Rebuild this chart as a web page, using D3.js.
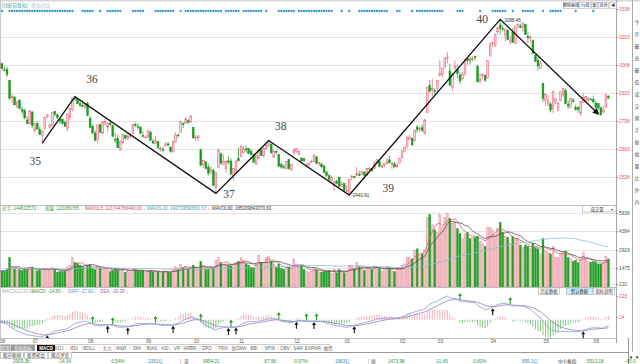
<!DOCTYPE html>
<html>
<head>
<meta charset="utf-8">
<script src="https://cdn.jsdelivr.net/npm/d3@7/dist/d3.min.js"></script>
<style>
  body { margin: 0; background: #fff; overflow: hidden; }
  svg { display: block; }
  text { font-family: "Liberation Sans", "Noto Sans CJK SC", sans-serif; }
  text.wave-label { font-family: "Liberation Serif", "DejaVu Serif", serif; }
</style>
</head>
<body>
<div id="chart"></div>
<script>
//Daily candles, 2018-06-12 .. 2019-06-12
var opens = [3052,3074,3045,3046,2995,2910,2913,2868,2898,2853,2848,2803,2784,
  2842,2754,2785,2757,2730,2763,2820,2766,2776,2845,2828,2808,2805,2790,2764,2818,2854,2908,2901,2884,2872,2862,
  2882,2812,2772,2740,2708,2780,2740,2790,2769,2788,2776,2708,2714,2664,2693,2730,2713,2723,2738,2781,2771,2766,2728,
  2718,2719,2745,2701,2689,2699,2662,2660,2679,2688,2671,2652,2698,2730,2743,2787,2789,2800,2793,
  2768,2713,2717,2660,2590,2601,2576,2558,2560,2476,2573,2640,2590,2568,2606,2605,2535,2557,
  2617,2628,2646,2663,2665,2653,2635,2591,2619,2659,2630,2664,2679,2686,2625,2652,2636,2588,2578,2570,2612,2563,
  2646,2652,2638,2620,2616,2580,2586,2598,2602,2625,2591,2590,2581,2551,2535,2512,2487,2508,2527,2481,
  2497,2461,2446,2529,2531,2537,2541,2540,2551,2536,2565,2570,2570,2598,2603,2575,2582,2593,2611,2592,2591,2579,
  2596,2623,2650,2672,2710,2714,2702,2769,2757,2767,2740,2838,2968,2947,2946,
  2954,3016,3025,3060,3101,3039,2962,3051,3046,3020,3001,3027,3100,3094,3094,3109,3061,2990,3017,3018,3005,
  3111,3177,3161,3227,3261,3243,3213,3236,3178,3225,3172,3258,3257,3250,3263,3207,3198,3186,3115,3090,3052,
  2980,2898,2883,2880,2859,2893,2850,2897,2924,2944,2879,2862,2900,2864,2863,2836,2887,2897,2899,2903,
  2902,2885,2882,2863,2842,2862,2917];
var highs = [3081,3078,3060,3060,2995,2930,2918,2894,2904,2866,2858,2821,2850,
  2844,2788,2796,2771,2755,2815,2831,2786,2838,2845,2834,2810,2812,2800,2835,2860,2906,2915,2909,2896,2889,2884,
  2893,2823,2782,2753,2780,2785,2795,2810,2789,2796,2780,2741,2732,2704,2734,2731,2738,2739,2783,2790,2788,2774,2749,
  2729,2751,2747,2712,2724,2700,2675,2673,2697,2696,2676,2701,2744,2738,2798,2790,2818,2808,2827,
  2769,2731,2728,2661,2612,2602,2592,2583,2566,2552,2665,2647,2639,2607,2629,2619,2571,2611,
  2670,2681,2678,2680,2667,2660,2642,2632,2661,2668,2668,2690,2704,2691,2658,2657,2640,2596,2589,2603,2612,2589,
  2666,2667,2656,2620,2621,2596,2597,2612,2636,2628,2601,2598,2587,2561,2541,2534,2510,2516,2531,2507,
  2500,2489,2515,2537,2535,2575,2558,2555,2556,2572,2575,2573,2601,2618,2605,2590,2594,2618,2631,2600,2600,2596,
  2619,2654,2674,2721,2731,2718,2754,2780,2772,2781,2805,2962,2995,3002,2955,
  2996,3091,3055,3103,3129,3075,3027,3090,3071,3033,3034,3096,3102,3106,3110,3114,3071,3028,3025,3022,3092,
  3176,3180,3217,3250,3288,3259,3243,3236,3209,3247,3255,3270,3268,3271,3267,3225,3213,3190,3126,3107,3088,
  2981,2933,2923,2889,2944,2910,2890,2939,2957,2955,2896,2910,2908,2877,2868,2892,2932,2920,2913,2910,
  2921,2894,2882,2864,2871,2925,2923];
var lows = [3048,3045,3037,3010,2899,2885,2874,2857,2853,2829,2806,2782,2783,
  2765,2742,2758,2731,2691,2758,2810,2758,2773,2819,2808,2783,2782,2768,2750,2801,2846,2894,2881,2867,2862,2855,
  2823,2764,2735,2700,2693,2740,2736,2777,2743,2772,2722,2691,2668,2653,2690,2708,2706,2714,2734,2768,2757,2736,2716,
  2711,2716,2702,2687,2685,2662,2651,2646,2674,2674,2644,2645,2694,2716,2743,2764,2785,2785,2791,
  2710,2702,2703,2583,2572,2565,2535,2540,2486,2449,2573,2588,2586,2550,2591,2539,2512,2550,
  2606,2622,2643,2646,2639,2633,2597,2586,2617,2629,2622,2661,2669,2639,2619,2640,2578,2567,2566,2566,2566,2555,
  2633,2644,2632,2597,2600,2575,2580,2596,2602,2592,2582,2573,2549,2528,2510,2500,2462,2492,2482,2478,
  2456,2455,2441,2512,2520,2535,2532,2536,2532,2533,2561,2552,2567,2597,2575,2573,2575,2590,2593,2566,2575,2573,
  2595,2616,2648,2672,2708,2680,2702,2740,2743,2745,2734,2838,2935,2917,2926,
  2931,3015,3010,3051,3076,2969,2944,3043,3004,2977,2993,3015,3070,3070,3085,3089,2983,2978,2999,2986,3005,
  3111,3155,3157,3216,3213,3230,3180,3186,3166,3174,3170,3244,3245,3229,3213,3175,3173,3123,3083,3041,3051,
  2889,2871,2868,2839,2838,2879,2847,2893,2914,2878,2855,2862,2888,2849,2837,2823,2886,2892,2887,2896,
  2883,2856,2851,2823,2836,2861,2903];
var closes = [3080,3050,3044,3022,2908,2916,2876,2890,2859,2845,2813,2787,2847,
  2776,2787,2759,2734,2747,2815,2828,2778,2838,2831,2814,2798,2787,2773,2829,2860,2906,2904,2882,2874,2869,2876,
  2825,2768,2740,2705,2779,2744,2794,2795,2786,2781,2723,2705,2669,2698,2734,2715,2725,2729,2781,2778,2769,2738,2725,
  2721,2751,2704,2692,2702,2669,2665,2656,2687,2682,2652,2700,2731,2729,2797,2781,2807,2792,2821,
  2717,2721,2726,2583,2607,2568,2546,2562,2486,2550,2655,2595,2603,2604,2599,2542,2568,2603,
  2606,2676,2665,2659,2641,2636,2599,2631,2655,2632,2668,2679,2704,2645,2652,2646,2579,2576,2575,2602,2567,2588,
  2655,2666,2650,2605,2606,2585,2594,2602,2634,2594,2598,2577,2550,2536,2516,2527,2505,2498,2483,2494,
  2465,2464,2515,2533,2526,2544,2535,2554,2536,2570,2570,2560,2596,2611,2580,2581,2592,2602,2597,2594,2576,2585,
  2618,2654,2672,2721,2720,2682,2754,2756,2761,2752,2804,2961,2942,2954,2941,
  2994,3028,3054,3102,3106,2970,3027,3060,3027,2991,3022,3096,3091,3091,3101,3104,2987,2997,3023,2995,3091,
  3170,3177,3216,3247,3245,3240,3242,3190,3189,3178,3254,3263,3250,3271,3215,3199,3202,3124,3086,3063,3078,
  2906,2926,2894,2851,2939,2904,2884,2939,2956,2882,2871,2906,2892,2853,2853,2892,2910,2915,2906,2899,
  2890,2862,2861,2828,2852,2924,2909];
var volumes = [1250,1300,1250,1400,2300,1600,1400,1300,1350,1300,1450,1350,1500,
  1550,1450,1250,1300,1400,1450,1350,1300,1500,1400,1150,1200,1200,1250,1550,1700,2300,1900,1850,1700,1600,1550,
  1700,1700,1450,1350,1600,1450,1400,1450,1400,1200,1300,1450,1350,1300,1450,1150,1200,1150,1450,1350,1250,1250,1250,
  1100,1250,1300,1150,1200,1150,1100,1150,1250,1150,1100,1350,1600,1400,1750,1500,1600,1400,1550,
  1700,1400,1350,2000,1700,1350,1400,1450,1500,2100,2300,1900,1750,1800,1700,1650,1750,1900,
  2000,2300,2100,1800,1700,1550,1500,1800,2500,1900,1900,2300,2400,2000,1800,1500,1800,1450,1350,1500,1550,1450,
  2200,1800,1550,1700,1350,1200,1150,1200,1450,1350,1150,1150,1200,1250,1300,1050,1350,1100,1350,1300,
  1100,1200,1700,1700,1400,1900,1550,1500,1300,1500,1450,1350,1650,1600,1450,1250,1350,1600,1500,1350,1200,1400,
  1500,1700,1800,2300,2300,2200,2900,3000,2500,2600,2900,5500,5700,4900,4500,
  4300,5700,4700,5500,5800,5400,5000,5200,4600,4200,3800,4200,4300,3800,3900,3900,4000,3600,3400,3200,4700,
  4700,4500,4100,4600,5100,4300,4000,3900,3400,4000,3800,3800,3300,3100,3300,3200,3000,3400,3100,3000,2600,
  3800,2900,2700,2600,3200,2300,2300,2600,2700,2800,2300,2200,2000,2100,1900,2300,2700,2200,2000,1900,
  2000,1900,1800,1800,1900,2400,2200];
// closes before the first candle (2018-05-02 .. 06-11), only used to warm up the MACD
var warmup = [3081,3100,3091,3136,3161,3159,3174,3163,3174,3192,3169,3154,3193,3214,3214,3169,3154,3141,3135,3120,3041,3095,3075,3091,3114,3115,3110,3067,3052];

var monthLabels = ["06","07","08","09","10","11","12","01","02","03","04","05","06"];
var monthStarts = [0,13,35,58,77,95,117,137,159,174,195,216,236];
var priceTicks = [3338,3203,3068,2933,2798,2663,2528];
var volTicks = [5838,4384,2919,1475,210];
var macdTicks = [122.5,14.29];

// hand drawn wave line
var pivotIdx = [17,30,86,107,139,199,238];
var pivotPrice = [2691,2915,2449,2704,2441,3288,2832];
var pivotLabels = ["35","36","37","38","39","40"];

// blue event dots on top row
var dotIdx = [1,4,5,6,7,8,9,10,11,12,13,14,15,16,17,18,19,20,21,22,23,24,25,26,27,28,29,
  33,34,35,36,37,40,43,44,45,46,47,48,53,54,55,56,57,62,63,64,65,66,67,68,69,72,
  74,75,76,77,78,79,80,81,82,83,84,85,86,87,88,90,91,92,93,94,95,97,98,99,100,101,102,103,104,106,
  111,112,113,114,115,116,117,119,120,121,122,123,124,125,126,127,128,129,130,131,132,136,139,
  143,144,145,146,147,148,149,150,151,152,153,154,158,159,164,166,167,168,169,170,171,172,173,174,175,176,
  182,183,184,191,196,197,198,199,200,201,204,208,209,210,211,212,216,219,220,221,222,223,229,236];

// MACD cross signals
var buyIdx = [19,43,51,69,91,94,118,125,141,196,232];
var sellIdx = [37,45,62,80,92,111,122,126,183,203];

//Define SVG
var width = 640, height = 364, axisX = 616;
var svg = d3.select("#chart").append("svg")
    .attr("width", width)
    .attr("height", height);

var n = closes.length;
var idx = d3.range(n);

//Define Scales
var x = d3.scaleLinear().domain([0, n - 1]).range([-0.5, 608.4]);
var yP = d3.scaleLinear().domain([2528, 3338]).range([177, 9]);
var yV = d3.scaleLinear().domain([210, 5838]).range([284, 213]);
var yM = d3.scaleLinear().domain([14.29, 122.5]).range([317, 296]);

var UP = "#e35a6c", UPFILL = "#f8d2d7", DOWN = "#1c9a22";
function isUp(i) { return closes[i] >= opens[i]; }

//Define clipping regions
var defs = svg.append("defs");
function addClip(id, y0, y1) {
    defs.append("clipPath").attr("id", id).append("rect")
        .attr("x", 0).attr("y", y0).attr("width", axisX).attr("height", y1 - y0);
}
addClip("clipP", 3, 205);
addClip("clipV", 205, 287);
addClip("clipM", 288, 338);

defs.append("marker")
    .attr("id", "arrowHead")
    .attr("viewBox", "0 0 10 10")
    .attr("refX", 8).attr("refY", 5)
    .attr("markerWidth", 5).attr("markerHeight", 5)
    .attr("orient", "auto")
    .append("path").attr("d", "M0,0 L10,5 L0,10 Z").attr("fill", "#111");

//top toolbar strip
svg.append("rect").attr("x", 0).attr("y", 0).attr("width", width).attr("height", 1.5).attr("fill", "#d6d6d6");
svg.append("line").attr("x1", 0.5).attr("x2", 0.5).attr("y1", 0).attr("y2", 338).attr("stroke", "#c8c8c8");
svg.append("text").attr("x", 1).attr("y", 7).attr("font-size", 4.8).attr("fill", "#3a9cb0").text("日线(前复权)");
svg.append("text").attr("x", 31).attr("y", 7).attr("font-size", 4.8).attr("fill", "#c4c4c4").text("叠加对比");

//gridlines
svg.append("g").selectAll("line").data(priceTicks.slice(1)).enter().append("line")
    .attr("x1", 1).attr("x2", axisX)
    .attr("y1", function(d) { return Math.round(yP(d)) + 0.5; })
    .attr("y2", function(d) { return Math.round(yP(d)) + 0.5; })
    .attr("stroke", "#e4e4e4");
svg.append("g").selectAll("line").data(volTicks).enter().append("line")
    .attr("x1", 1).attr("x2", axisX)
    .attr("y1", function(d) { return Math.round(yV(d)) + 0.5; })
    .attr("y2", function(d) { return Math.round(yV(d)) + 0.5; })
    .attr("stroke", "#e4e4e4");

//panel separators
[205.5, 287.5, 338.5].forEach(function(yy) {
    svg.append("line").attr("x1", 0).attr("x2", axisX).attr("y1", yy).attr("y2", yy).attr("stroke", "#bdbdbd");
});
svg.append("line").attr("x1", axisX + 0.5).attr("x2", axisX + 0.5).attr("y1", 0).attr("y2", 343).attr("stroke", "#a8a8a8");

//event dots
svg.append("g").selectAll("circle").data(dotIdx).enter().append("circle")
    .attr("cx", function(i) { return x(i); })
    .attr("cy", 11)
    .attr("r", 1.15)
    .attr("fill", "#2f98c9");

//Draw candles
var gP = svg.append("g").attr("clip-path", "url(#clipP)");
gP.selectAll(".wick").data(idx).enter().append("line")
    .attr("class", "wick")
    .attr("x1", function(i) { return x(i); })
    .attr("x2", function(i) { return x(i); })
    .attr("y1", function(i) { return yP(highs[i]); })
    .attr("y2", function(i) { return yP(lows[i]); })
    .attr("stroke", function(i) { return isUp(i) ? UP : DOWN; })
    .attr("stroke-width", 0.7);
gP.selectAll(".body").data(idx).enter().append("rect")
    .attr("class", "body")
    .attr("x", function(i) { return x(i) - 0.9; })
    .attr("width", 1.8)
    .attr("y", function(i) { return yP(Math.max(opens[i], closes[i])); })
    .attr("height", function(i) { return Math.max(0.7, Math.abs(yP(opens[i]) - yP(closes[i]))); })
    .attr("fill", function(i) { return isUp(i) ? UPFILL : DOWN; })
    .attr("stroke", function(i) { return isUp(i) ? UP : DOWN; })
    .attr("stroke-width", 0.5);

//wave line 35..40
var wave = d3.line()
    .x(function(d, k) { return x(pivotIdx[k]); })
    .y(function(d, k) { return yP(pivotPrice[k]); });
gP.append("path")
    .attr("d", wave(pivotIdx))
    .attr("fill", "none")
    .attr("stroke", "#111")
    .attr("stroke-width", 1.3)
    .attr("marker-end", "url(#arrowHead)");

var labelOffset = [[-7, 22], [17, -14], [13, 5], [12, -10], [39, -3], [-18, 4]];
svg.append("g").selectAll("text").data(pivotLabels).enter().append("text")
    .attr("class", "wave-label")
    .attr("x", function(d, k) { return x(pivotIdx[k]) + labelOffset[k][0]; })
    .attr("y", function(d, k) { return yP(pivotPrice[k]) + labelOffset[k][1]; })
    .attr("text-anchor", "middle")
    .attr("font-size", 11.5)
    .attr("fill", "#444")
    .text(function(d) { return d; });

svg.append("text").attr("x", x(199) + 4).attr("y", yP(3288) + 2.5)
    .attr("font-size", 4.6).attr("fill", "#333").text("3288.45");
svg.append("text").attr("x", x(139) + 2).attr("y", yP(2441) + 2)
    .attr("font-size", 4.6).attr("fill", "#333").text("-2440.91");

//price axis
var yAxisP = d3.axisRight(yP).tickValues(priceTicks).tickSize(2).tickPadding(1).tickFormat(d3.format("d"));
var gAxP = svg.append("g").attr("transform", "translate(" + axisX + ",0)").call(yAxisP);
gAxP.select(".domain").remove();
gAxP.selectAll("line").attr("stroke", "#d9707e");
gAxP.selectAll("text").attr("font-size", 4.8).attr("fill", "#d9546a");

//top right buttons
var btns = [["删除画线", 563, 15], ["T1线", 579, 11], ["窗", 591, 6], ["持仓", 598, 10], ["◀", 609, 7]];
btns.forEach(function(b) {
    svg.append("rect").attr("x", b[1] + 0.5).attr("y", 2.5).attr("width", b[2]).attr("height", 6)
        .attr("fill", "#fafafa").attr("stroke", "#b5b5b5").attr("stroke-width", 0.6);
    svg.append("text").attr("x", b[1] + 0.5 + b[2] / 2).attr("y", 7.2).attr("text-anchor", "middle")
        .attr("font-size", 4).attr("fill", "#333").text(b[0]);
});

//volume bars
var gV = svg.append("g").attr("clip-path", "url(#clipV)");
gV.selectAll("rect").data(idx).enter().append("rect")
    .attr("x", function(i) { return x(i) - 0.95; })
    .attr("width", 1.9)
    .attr("y", function(i) { return yV(volumes[i]); })
    .attr("height", function(i) { return 287 - yV(volumes[i]); })
    .attr("fill", function(i) { return isUp(i) ? "#f6c3ca" : "#22a126"; })
    .attr("stroke", function(i) { return isUp(i) ? "#e98594" : "#22a126"; })
    .attr("stroke-width", 0.4);

function movingAvg(arr, k) {
    return arr.map(function(d, i) { return d3.mean(arr.slice(Math.max(0, i - k + 1), i + 1)); });
}
var volLines = [[5, "#d4606f"], [10, "#555"], [60, "#88c2da"]];
volLines.forEach(function(v) {
    var m = movingAvg(volumes, v[0]);
    gV.append("path")
        .attr("d", d3.line().x(function(d, i) { return x(i); }).y(function(d) { return yV(d); })(m))
        .attr("fill", "none").attr("stroke", v[1]).attr("stroke-width", 0.8);
});

var yAxisV = d3.axisRight(yV).tickValues(volTicks).tickSize(2).tickPadding(1).tickFormat(d3.format("d"));
var gAxV = svg.append("g").attr("transform", "translate(" + axisX + ",0)").call(yAxisV);
gAxV.select(".domain").remove();
gAxV.selectAll("line").attr("stroke", "#888");
gAxV.selectAll("text").attr("font-size", 4.8).attr("fill", "#555");

//volume header
var volHead = [
    [2, "总手: 144632570", "#3a9a3a"],
    [45, "现量: 120289785", "#3a9a3a"],
    [85, "MAVOL5: 121744766440.00", "#d4485c"],
    [147, "MAVOL10: 143729890581.67", "#3aa3b8"],
    [212, "MAVOL60: 185209843070.83", "#333"]
];
volHead.forEach(function(h) {
    var t = svg.append("text").attr("x", h[0]).attr("y", 209.5).attr("font-size", 4.5);
    t.append("tspan").attr("fill", h[2]).text(h[1]);
    t.append("tspan").attr("fill", "#e0303e").text(" ↑");
});
svg.append("rect").attr("x", 582.5).attr("y", 205.5).attr("width", 33.5).attr("height", 6.5)
    .attr("fill", "#fff").attr("stroke", "#aaa").attr("stroke-width", 0.6);
svg.append("text").attr("x", 597).attr("y", 210.5).attr("text-anchor", "middle").attr("font-size", 4.4).attr("fill", "#333").text("成交量");
svg.append("text").attr("x", 612).attr("y", 210.5).attr("text-anchor", "middle").attr("font-size", 4).attr("fill", "#333").text("▾");

//MACD (12,26,9) from closes
var all = warmup.concat(closes);
var e12 = all[0], e26 = all[0], dea = 0;
var diff = [], deaArr = [], hist = [];
all.forEach(function(c, k) {
    e12 = e12 + (c - e12) * 2 / 13;
    e26 = e26 + (c - e26) * 2 / 27;
    var d = e12 - e26;
    dea = dea + (d - dea) * 2 / 10;
    if (k >= warmup.length) {
        diff.push(d);
        deaArr.push(dea);
        hist.push(2 * (d - dea));
    }
});

var gM = svg.append("g").attr("clip-path", "url(#clipM)");
gM.selectAll("line").data(idx).enter().append("line")
    .attr("x1", function(i) { return x(i); })
    .attr("x2", function(i) { return x(i); })
    .attr("y1", yM(0))
    .attr("y2", function(i) { return yM(hist[i]); })
    .attr("stroke", function(i) { return hist[i] >= 0 ? "#e88d99" : "#4fb34f"; })
    .attr("stroke-width", 0.7);
var macdLine = d3.line().x(function(d, i) { return x(i); }).y(function(d) { return yM(d); });
gM.append("path").attr("d", macdLine(deaArr)).attr("fill", "none").attr("stroke", "#9d78b8").attr("stroke-width", 0.8);
gM.append("path").attr("d", macdLine(diff)).attr("fill", "none").attr("stroke", "#7f9fd4").attr("stroke-width", 0.8);

var arrowPath = "M0,0 L-2,3 L-0.55,3 L-0.55,7 L0.55,7 L0.55,3 L2,3 Z";
gM.selectAll(".buy").data(buyIdx).enter().append("path")
    .attr("class", "buy")
    .attr("d", arrowPath)
    .attr("transform", function(i) { return "translate(" + x(i) + "," + (yM(diff[i]) + 1) + ")"; })
    .attr("fill", "#111");
gM.selectAll(".sell").data(sellIdx).enter().append("path")
    .attr("class", "sell")
    .attr("d", arrowPath)
    .attr("transform", function(i) { return "translate(" + x(i) + "," + (yM(diff[i]) - 8) + ")"; })
    .attr("fill", "#2f9a2f");

var yAxisM = d3.axisRight(yM).tickValues(macdTicks).tickSize(2).tickPadding(1);
var gAxM = svg.append("g").attr("transform", "translate(" + axisX + ",0)").call(yAxisM);
gAxM.select(".domain").remove();
gAxM.selectAll("line").attr("stroke", "#d9707e");
gAxM.selectAll("text").attr("font-size", 4.8).attr("fill", "#d9546a");

var macdHead = [
    [2, "MACD(12,26,9)", "#aaa"],
    [32, "MACD: -14.89", "#3a9a3a"],
    [68, "DIFF: -27.81", "#5b8fcf"],
    [100, "DEA: -20.39", "#9d68b0"]
];
macdHead.forEach(function(h, k) {
    var t = svg.append("text").attr("x", h[0]).attr("y", 292.5).attr("font-size", 4.5);
    t.append("tspan").attr("fill", h[2]).text(h[1]);
    if (k > 0) t.append("tspan").attr("fill", "#888").text(" ↓");
});
var macdBtns = [["历史数据", 538, 21, "#fff"], ["默认数据", 566, 26, "#c9eefb"], ["指标说明", 593, 21, "#fff"]];
macdBtns.forEach(function(b) {
    svg.append("rect").attr("x", b[1] + 0.5).attr("y", 288).attr("width", b[2]).attr("height", 6.5)
        .attr("fill", b[3]).attr("stroke", "#aaa").attr("stroke-width", 0.6);
    svg.append("text").attr("x", b[1] + 0.5 + b[2] / 2).attr("y", 293).attr("text-anchor", "middle")
        .attr("font-size", 4.3).attr("fill", "#333").text(b[0]);
});

//month axis
svg.append("g").selectAll("text").data(monthLabels).enter().append("text")
    .attr("x", function(d, k) { return x(monthStarts[k]) + 0.5; })
    .attr("y", 343)
    .attr("font-size", 4.8)
    .attr("fill", "#555")
    .text(function(d) { return d; });

//indicator tabs
svg.append("line").attr("x1", 0).attr("x2", 330).attr("y1", 344.5).attr("y2", 344.5).attr("stroke", "#ccc");
var tabs = ["常用", "系统指标", "MACD", "KDJ", "RSI", "BOLL", "主力", "W&R", "DMI", "BIAS", "ASI", "VR", "ARBR", "DPO", "TRIX", "新DMA", "BBI", "MTM", "OBV", "SAR", "EXPMA", "融资"];
var tabX = [5, 23, 46, 59, 74, 89, 107, 121, 137, 152, 165, 177, 190, 207, 223, 239, 254, 270, 285, 298, 313, 328];
tabs.forEach(function(t, k) {
    if (k < 2) {
        svg.append("rect").attr("x", k === 0 ? 0.5 : 11).attr("y", 345).attr("width", k === 0 ? 10 : 24).attr("height", 6)
            .attr("fill", "#9a9a9a");
    }
    if (k === 2) {
        svg.append("rect").attr("x", 37).attr("y", 345).attr("width", 18).attr("height", 6).attr("fill", "#111");
    }
    svg.append("text").attr("x", tabX[k]).attr("y", 349.8).attr("text-anchor", "middle")
        .attr("font-size", 4.5)
        .attr("font-weight", k === 2 ? "bold" : "normal")
        .attr("fill", k < 3 ? "#fff" : "#666")
        .text(t);
    if (k > 2) {
        svg.append("line").attr("x1", tabX[k] - 7).attr("x2", tabX[k] - 7).attr("y1", 345.5).attr("y2", 350.5)
            .attr("stroke", "#ccc").attr("stroke-width", 0.5);
    }
});

//news row
var news = [["股市新闻", 0], ["投资机会", 24], ["观点评论", 48]];
news.forEach(function(b) {
    svg.append("rect").attr("x", b[1] + 0.5).attr("y", 352.5).attr("width", 23).attr("height", 6)
        .attr("fill", "#fff").attr("stroke", "#aaa").attr("stroke-width", 0.6);
    svg.append("text").attr("x", b[1] + 12).attr("y", 357.3).attr("text-anchor", "middle")
        .attr("font-size", 4.5).attr("fill", "#333").text(b[0]);
});
svg.append("line").attr("x1", 72).attr("x2", 628).attr("y1", 352.5).attr("y2", 352.5).attr("stroke", "#999");
svg.append("line").attr("x1", 628.5).attr("x2", 628.5).attr("y1", 338).attr("y2", 364).attr("stroke", "#999");
svg.append("text").attr("x", 631).attr("y", 358.5).attr("text-anchor", "middle").attr("font-size", 4.5).attr("fill", "#222").text("▼");
svg.append("text").attr("x", 637).attr("y", 358.5).attr("text-anchor", "middle").attr("font-size", 4.5).attr("fill", "#222").text("▼");

//market quote row along the bottom edge
var quotes = [
    [13, "2909.38", "#2a9a2a"], [58, "-14.34", "#2a9a2a"], [110, "-0.54%", "#2a9a2a"], [148, "2331亿", "#2f86c8"],
    [180, "|", "#888"], [184, "深", "#333"], [203, "9954.21", "#2a9a2a"], [263, "-67.56", "#2a9a2a"],
    [293, "-0.97%", "#2a9a2a"], [335, "1963亿", "#2f86c8"], [368, "|", "#888"], [371, "创", "#333"],
    [388, "1473.98", "#2a9a2a"], [435, "-11.45", "#2a9a2a"], [472, "-0.80%", "#2a9a2a"], [522, "895.1亿", "#2f86c8"],
    [558, "中小板指", "#333"], [587, "5513.18", "#2a9a2a"], [625, "-45.0", "#2a9a2a"]
];
quotes.forEach(function(q) {
    svg.append("text").attr("x", q[0]).attr("y", 363.3).attr("font-size", 4.6).attr("fill", q[2]).text(q[1]);
});

//right info strip
svg.append("line").attr("x1", 632.5).attr("x2", 632.5).attr("y1", 0).attr("y2", 352).attr("stroke", "#aaa");
var side = ["今", "开", "最", "高", "最", "低", "成", "交", "换", "手", "振", "幅", "量", "比", "外", "内"];
side.forEach(function(c, k) {
    svg.append("text").attr("x", 634.5).attr("y", 24 + k * 12).attr("font-size", 4.8).attr("fill", "#555").text(c);
});
</script>
</body>
</html>
